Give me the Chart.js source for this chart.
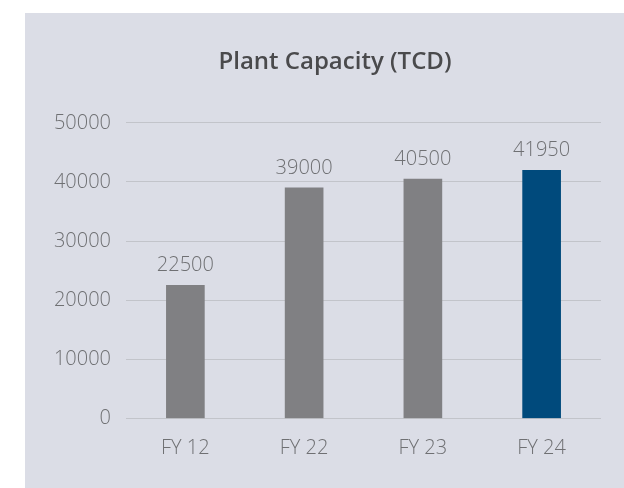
<!DOCTYPE html>
<html>
<head>
<meta charset="utf-8">
<script src="https://cdn.jsdelivr.net/npm/chart.js@4/dist/chart.umd.min.js"></script>
<style>
  html, body { margin: 0; padding: 0; background: #ffffff; }
  #wrap { position: absolute; left: 0; top: 0; width: 624px; height: 488px; }
</style>
</head>
<body>
<div id="wrap"><canvas id="c" width="624" height="488"></canvas></div>
<script>
const categories = ['FY 12', 'FY 22', 'FY 23', 'FY 24'];
const capacityValues = [22500, 39000, 40500, 41950];
const barColors = ['#808083', '#808083', '#808083', '#004a7c'];
const yTickValues = [0, 10000, 20000, 30000, 40000, 50000];
const chartTitle = 'Plant Capacity (TCD)';

const panelBg = {
  id: 'panelBg',
  beforeDraw(chart) {
    const ctx = chart.ctx;
    ctx.save();
    ctx.fillStyle = '#dbdde6';
    ctx.fillRect(25, 13, 599, 475);
    ctx.restore();
  }
};

// centre the title block over the grey panel area
const titleShift = {
  id: 'titleShift',
  afterLayout(chart) {
    const t = chart.titleBlock;
    if (t) { t.left += 44; }
  }
};

const valueLabels = {
  id: 'valueLabels',
  afterDatasetsDraw(chart) {
    const ctx = chart.ctx;
    const meta = chart.getDatasetMeta(0);
    ctx.save();
    ctx.font = '300 20px "Open Sans"';
    ctx.fillStyle = '#6f7073';
    ctx.textAlign = 'center';
    ctx.textBaseline = 'alphabetic';
    meta.data.forEach((bar, i) => {
      ctx.fillText(String(chart.data.datasets[0].data[i]), bar.x, bar.y - 14);
    });
    ctx.restore();
  }
};

new Chart(document.getElementById('c'), {
  type: 'bar',
  data: {
    labels: categories,
    datasets: [{
      data: capacityValues,
      backgroundColor: barColors,
      borderWidth: 0,
      barThickness: 38
    }]
  },
  options: {
    responsive: false,
    animation: false,
    layout: { padding: { left: 25, right: 23, top: 48, bottom: 0 } },
    plugins: {
      legend: { display: false },
      tooltip: { enabled: false },
      title: {
        display: true,
        text: chartTitle,
        color: '#4a4a4c',
        font: { family: '"Open Sans"', size: 24, weight: '600' },
        padding: { top: 0, bottom: 46 }
      }
    },
    scales: {
      x: {
        grid: { display: false, drawTicks: false },
        border: { display: false },
        ticks: {
          color: '#6f7073',
          font: { family: '"Open Sans"', size: 20, weight: '300' },
          padding: 18
        },
        afterFit(scale) { scale.height = 69.5; }
      },
      y: {
        min: 0,
        max: 50000,
        afterBuildTicks(scale) { scale.ticks = yTickValues.map(v => ({ value: v })); },
        grid: { color: '#c2c4ca', lineWidth: 1, drawTicks: false },
        border: { display: false },
        ticks: {
          color: '#6f7073',
          font: { family: '"Open Sans"', size: 20, weight: '300' },
          padding: 15,
          callback: v => String(v)
        },
        afterFit(scale) { scale.width = 101; }
      }
    }
  },
  plugins: [panelBg, titleShift, valueLabels]
});
</script>
</body>
</html>
